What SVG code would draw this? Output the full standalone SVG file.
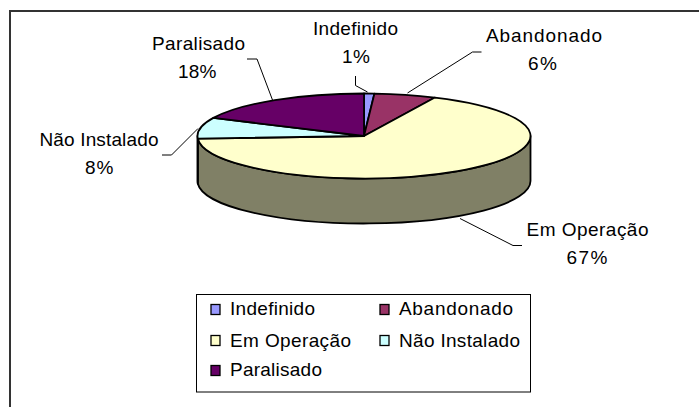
<svg xmlns="http://www.w3.org/2000/svg" width="699" height="407" viewBox="0 0 699 407">
<style>
text{font-family:"Liberation Sans",Arial,sans-serif;font-size:19px;fill:#000}
.slice{stroke:#000;stroke-width:1.8;stroke-linejoin:round}
.lead{fill:none;stroke:#000;stroke-width:1}
.sw{stroke:#000;stroke-width:1.3}
</style>
<rect x="10" y="11" width="720" height="420" fill="#fff" stroke="#333" stroke-width="2"/>
<g id="pie">
<g id="side">
<path class="slice" fill="#808066" d="M530.5,136 A166.5 42.5 0 0 1 197.83,138.67 L197.83,183.67 A166.5 42.5 0 0 0 530.5,181 Z"/>
<path class="slice" fill="#668080" d="M197.83,138.67 A166.5 42.5 0 0 1 197.5,136 L197.5,181 A166.5 42.5 0 0 0 197.83,183.67 Z"/>
</g>
<g id="indefinido"><path class="slice" fill="#9999FF" d="M364,136 L364,93.5 A166.5 42.5 0 0 1 374.45,93.58 Z"/></g>
<g id="abandonado"><path class="slice" fill="#993366" d="M364,136 L374.45,93.58 A166.5 42.5 0 0 1 434.89,97.55 Z"/></g>
<g id="em-operacao"><path class="slice" fill="#FFFFCC" d="M364,136 L434.89,97.55 A166.5 42.5 0 1 1 197.83,138.67 Z"/></g>
<g id="nao-instalado"><path class="slice" fill="#CCFFFF" d="M364,136 L197.83,138.67 A166.5 42.5 0 0 1 213.35,117.9 Z"/></g>
<g id="paralisado"><path class="slice" fill="#660066" d="M364,136 L213.35,117.9 A166.5 42.5 0 0 1 364,93.5 Z"/></g>
</g>
<g id="connectors">
<polyline class="lead" points="355.5,76 355.5,85.5 367.5,92"/>
<polyline class="lead" points="481.5,52 472.5,52 407.5,93"/>
<polyline class="lead" points="247,59 257,59 272.5,100"/>
<polyline class="lead" points="162,155 171.5,155 198,128.5"/>
<polyline class="lead" points="460,218.5 513,245.5 522,245.5"/>
</g>
<g id="labels">
<text x="313" y="35" textLength="85" lengthAdjust="spacing">Indefinido</text>
<text x="342" y="63" textLength="28" lengthAdjust="spacing">1%</text>
<text x="152" y="50" textLength="93" lengthAdjust="spacing">Paralisado</text>
<text x="178" y="78" textLength="38.5" lengthAdjust="spacing">18%</text>
<text x="486" y="42" textLength="116" lengthAdjust="spacing">Abandonado</text>
<text x="528" y="70" textLength="29" lengthAdjust="spacing">6%</text>
<text x="39.5" y="145.5" textLength="119" lengthAdjust="spacing">Não Instalado</text>
<text x="85" y="174" textLength="28.5" lengthAdjust="spacing">8%</text>
<text x="526.5" y="236" textLength="122" lengthAdjust="spacing">Em Operação</text>
<text x="566.5" y="264" textLength="41" lengthAdjust="spacing">67%</text>
</g>
<g id="legend">
<rect x="196.5" y="294.5" width="334" height="97.5" fill="#fff" stroke="#000" stroke-width="1"/>
<rect class="sw" x="211" y="304.5" width="9" height="10" fill="#9999FF"/>
<text x="230" y="315" textLength="85" lengthAdjust="spacing">Indefinido</text>
<rect class="sw" x="380" y="304.5" width="9" height="10" fill="#993366"/>
<text x="399" y="315" textLength="114" lengthAdjust="spacing">Abandonado</text>
<rect class="sw" x="211" y="335.5" width="9" height="10" fill="#FFFFCC"/>
<text x="230" y="346.5" textLength="121" lengthAdjust="spacing">Em Operação</text>
<rect class="sw" x="380" y="335.5" width="9" height="10" fill="#CCFFFF"/>
<text x="399" y="346.5" textLength="121" lengthAdjust="spacing">Não Instalado</text>
<rect class="sw" x="211" y="365.5" width="9" height="10" fill="#660066"/>
<text x="230" y="376" textLength="92" lengthAdjust="spacing">Paralisado</text>
</g>
</svg>
